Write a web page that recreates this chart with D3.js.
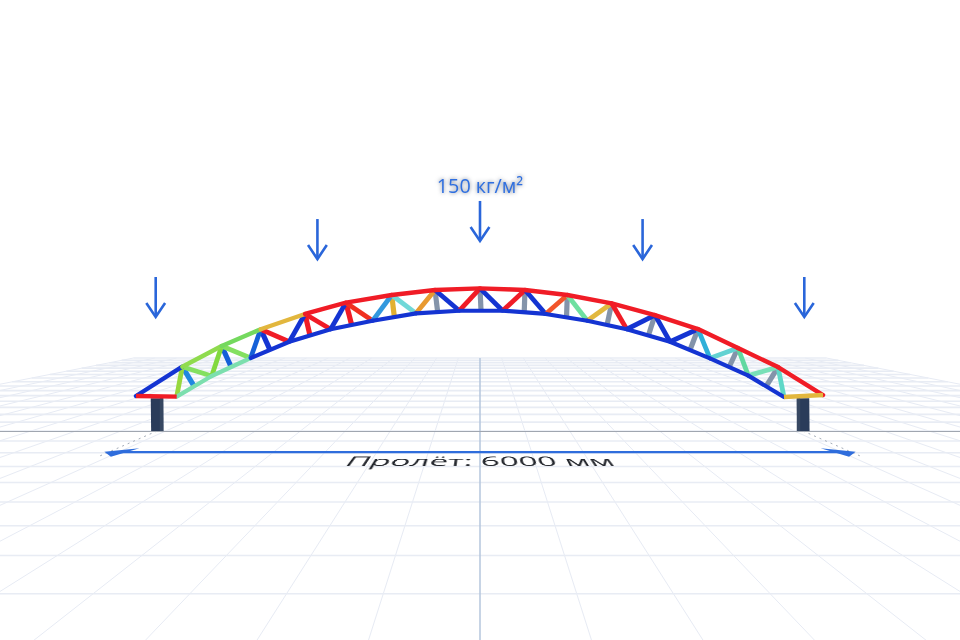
<!DOCTYPE html>
<html><head><meta charset="utf-8">
<style>html,body{margin:0;padding:0;background:#fff;overflow:hidden}
svg{position:absolute;left:0;top:0}
text{font-family:"Open Sans","Noto Sans",sans-serif}</style>
<script src="https://cdn.jsdelivr.net/npm/d3@7"></script>
</head><body>
<div id="c" style="position:relative;width:960px;height:640px;overflow:hidden"></div>
<script>
// Truss nodes (mm along the span, mm above the ground)
const topX=[-3195,-2765,-2399,-2037,-1625,-1245,-820,-418,0,418,811,1223,1625,2025,2396,2768,3186];
const topH=[325,597,789,945,1087,1192,1263,1310,1325,1310,1263,1186,1077,947,771,594,334];
const botX=[-2817,-2492,-2130,-1771,-1387,-997,-594,-192,211,610,997,1363,1765,2136,2492,2823];
const botH=[319,511,678,829,945,1024,1093,1117,1117,1087,1024,945,829,675,514,316];
const supportX=[-3000,3000];
const loadX=[-3012,-1510,0,1510,3012];
const loadTipH=[1059,1597,1765,1597,1059];
const loadLabel="150 кг/м²";
const spanLabel="Пролёт: 6000 мм";

// Member colours by stress
const B="#1434d2",R="#f01c26",G="#8494aa";
const topColors=[B,"#8fdb4e","#74d95e","#e2b73e",R,R,R,R,R,R,R,R,R,R,R,R];
const botColors=["#7cdfae","#7cdfae",B,B,B,B,B,B,B,B,B,B,B,B,B];
const riseColors=["#98d83f","#82d93e","#1560d8",B,B,"#3298de","#e89a30",R,R,"#f2542a","#e2b83e",B,B,"#62d2d2","#78e0b8"];
const postColors=["#2088e0","#1560d8",B,R,R,"#e2b030",G,G,G,G,G,G,G,G,G];
const fallColors=["#84e060","#84e060",R,R,"#f03020","#70d8d8",B,B,B,"#6ee0a0",R,B,"#30b0d8","#60d8a0","#60d8c8"];

const svg=d3.select("#c").append("svg").attr("width",960).attr("height",640);
const pxPerMm=0.10767;
const xS=d3.scaleLinear().domain([-3000,3000]).range([480-3000*pxPerMm,480+3000*pxPerMm]);
const yS=d3.scaleLinear().domain([0,1000]).range([431,431-1000*pxPerMm]);
// ground plane perspective
const horizon=290,cx=480,base=141;
const depth=d3.scaleLinear().domain([0,1]).range([1/base,1/base-0.000475]);
const pg=(x,z)=>[cx+(xS(x)-cx)/(depth(z)*base),horizon+1/depth(z)];
const ln=d3.line();
const gridStep=417;
const gridN=d3.range(-16,17), gridZ=d3.range(-16,11);

const g=svg.append("g");
g.selectAll(".v").data(gridN.filter(n=>n!==0)).join("path").attr("d",n=>ln([pg(n*gridStep,-16),pg(n*gridStep,10)]))
 .attr("stroke","#e7ebf4").attr("stroke-width",1).attr("fill","none");
g.selectAll(".h").data(gridZ).join("path").attr("d",z=>ln([pg(-16*gridStep,z),pg(16*gridStep,z)]))
 .attr("stroke","#e8ecf4").attr("stroke-width",z=>z<0?1.6:1.5).attr("fill","none");
g.append("path").attr("d",ln([pg(0,-16),pg(0,10)])).attr("stroke","#b4c6dc").attr("stroke-width",1.5);
g.append("path").attr("d",ln([[0,yS(0)+.5],[960,yS(0)+.5]])).attr("stroke","#a0a6b0").attr("stroke-width",1);

// extension dashes
svg.selectAll(".ext").data(supportX).join("path").attr("d",x=>ln([pg(x,0),pg(x,2.3)]))
 .attr("stroke","#a4acb8").attr("stroke-width",1).attr("stroke-dasharray","2 4").attr("fill","none");

// dimension line
const dimZ=1.94,dimEnd=3040;
svg.append("path").attr("d",ln([pg(-dimEnd+60,dimZ),pg(dimEnd-60,dimZ)])).attr("stroke","#2f6ddc").attr("stroke-width",2.2).style("filter","blur(.3px)");
[-1,1].forEach(s=>{
  svg.append("path").attr("d",ln([pg(s*dimEnd,dimZ-.02),pg(s*(dimEnd-220),dimZ-0.32),pg(s*(dimEnd-140),dimZ+0.36)])+"Z").attr("fill","#2f6ddc");
});

// columns
const colW=58;
supportX.forEach(x=>{
  const xl=xS(x-colW),xr=xS(x+colW),t=yS(305),b=yS(0);
  svg.append("path").attr("d",ln([[xl,t],[xr,t],[xr+.3,b],[xl+.4,b]])+"Z").attr("fill","#2a3c5a");
  const sx=x<0?xS(x+colW*.45):xS(x-colW);
  const sw=colW*.55*pxPerMm;
  svg.append("rect").attr("x",sx).attr("y",t).attr("width",sw).attr("height",b-t).attr("fill","#374862");
});

// truss
const T=topX.map((x,i)=>[xS(x),yS(topH[i])]);
const Bn=botX.map((x,i)=>[xS(x),yS(botH[i])]);
const mid=(a,b)=>[(a[0]+b[0])/2,(a[1]+b[1])/2];
const webs=[];
for(let i=0;i<15;i++){
  const t=T[i+1],l=Bn[i],r=Bn[i+1];
  webs.push({a:t,b:mid(l,r),c:postColors[i],w:5.2});
  webs.push({a:t,b:l,c:riseColors[i],w:4.8});
  webs.push({a:t,b:r,c:fallColors[i],w:4.8});
}
const tr=svg.append("g").attr("fill","none").style("filter","blur(.35px)");
tr.selectAll(".w").data(webs).join("path").attr("d",d=>ln([d.a,d.b])).attr("stroke",d=>d.c).attr("stroke-width",d=>d.w);
tr.selectAll(".bc").data(d3.pairs(Bn)).join("path").attr("d",d=>ln(d)).attr("stroke",(d,i)=>botColors[i]).attr("stroke-width",4.2).attr("stroke-linecap","round");
tr.selectAll(".tc").data(d3.pairs(T)).join("path").attr("d",d=>ln(d)).attr("stroke",(d,i)=>topColors[i]).attr("stroke-width",4.4).attr("stroke-linecap","round");
tr.append("path").attr("d",ln([[T[0][0],T[0][1]],Bn[0]])).attr("stroke",R).attr("stroke-width",4.4);
tr.append("path").attr("d",ln([Bn[15],T[16]])).attr("stroke","#e2b73e").attr("stroke-width",4.4);

// load arrows
const arrow=svg.append("g").attr("fill","none").attr("stroke","#2a66da").attr("stroke-width",2.6).style("filter","blur(.25px)");
loadX.forEach((x,i)=>{
  const tx=xS(x),ty=yS(loadTipH[i]);
  arrow.append("path").attr("d",ln([[tx,ty-40],[tx,ty-1]]));
  arrow.append("path").attr("d",ln([[tx-9.4,ty-14],[tx,ty],[tx+9.4,ty-14]]));
});
svg.append("text").attr("x",480).attr("y",192.5).attr("text-anchor","middle").attr("font-size",19.8)
 .attr("fill","#2f6fe0").style("filter","drop-shadow(0 0 2px rgba(90,100,120,.9))").text(loadLabel);

// span label lying on the ground plane
const sz=0.0285, zBase=2.97, k=0.000475*sz, z0=zBase-40*sz;
const w0=depth(z0), c=44.9/141;
const lab=d3.select("#c").append("svg").attr("width",400).attr("height",60).style("transform-origin","0 0");
const lt=lab.append("text").attr("x",200).attr("y",40).attr("text-anchor","middle").attr("font-size",32).attr("font-weight",500).attr("fill","#24272d").text(spanLabel);
const len=lt.node().getComputedTextLength();
const sxx=4.88/len;
const m=[c*sxx,0,0,0, -cx*k,-horizon*k,0,-k, 0,0,1,0, cx*w0-200*c*sxx,horizon*w0+1,0,w0].map(v=>v/w0);
lab.style("transform",`matrix3d(${m.join(",")})`);
</script></body></html>
